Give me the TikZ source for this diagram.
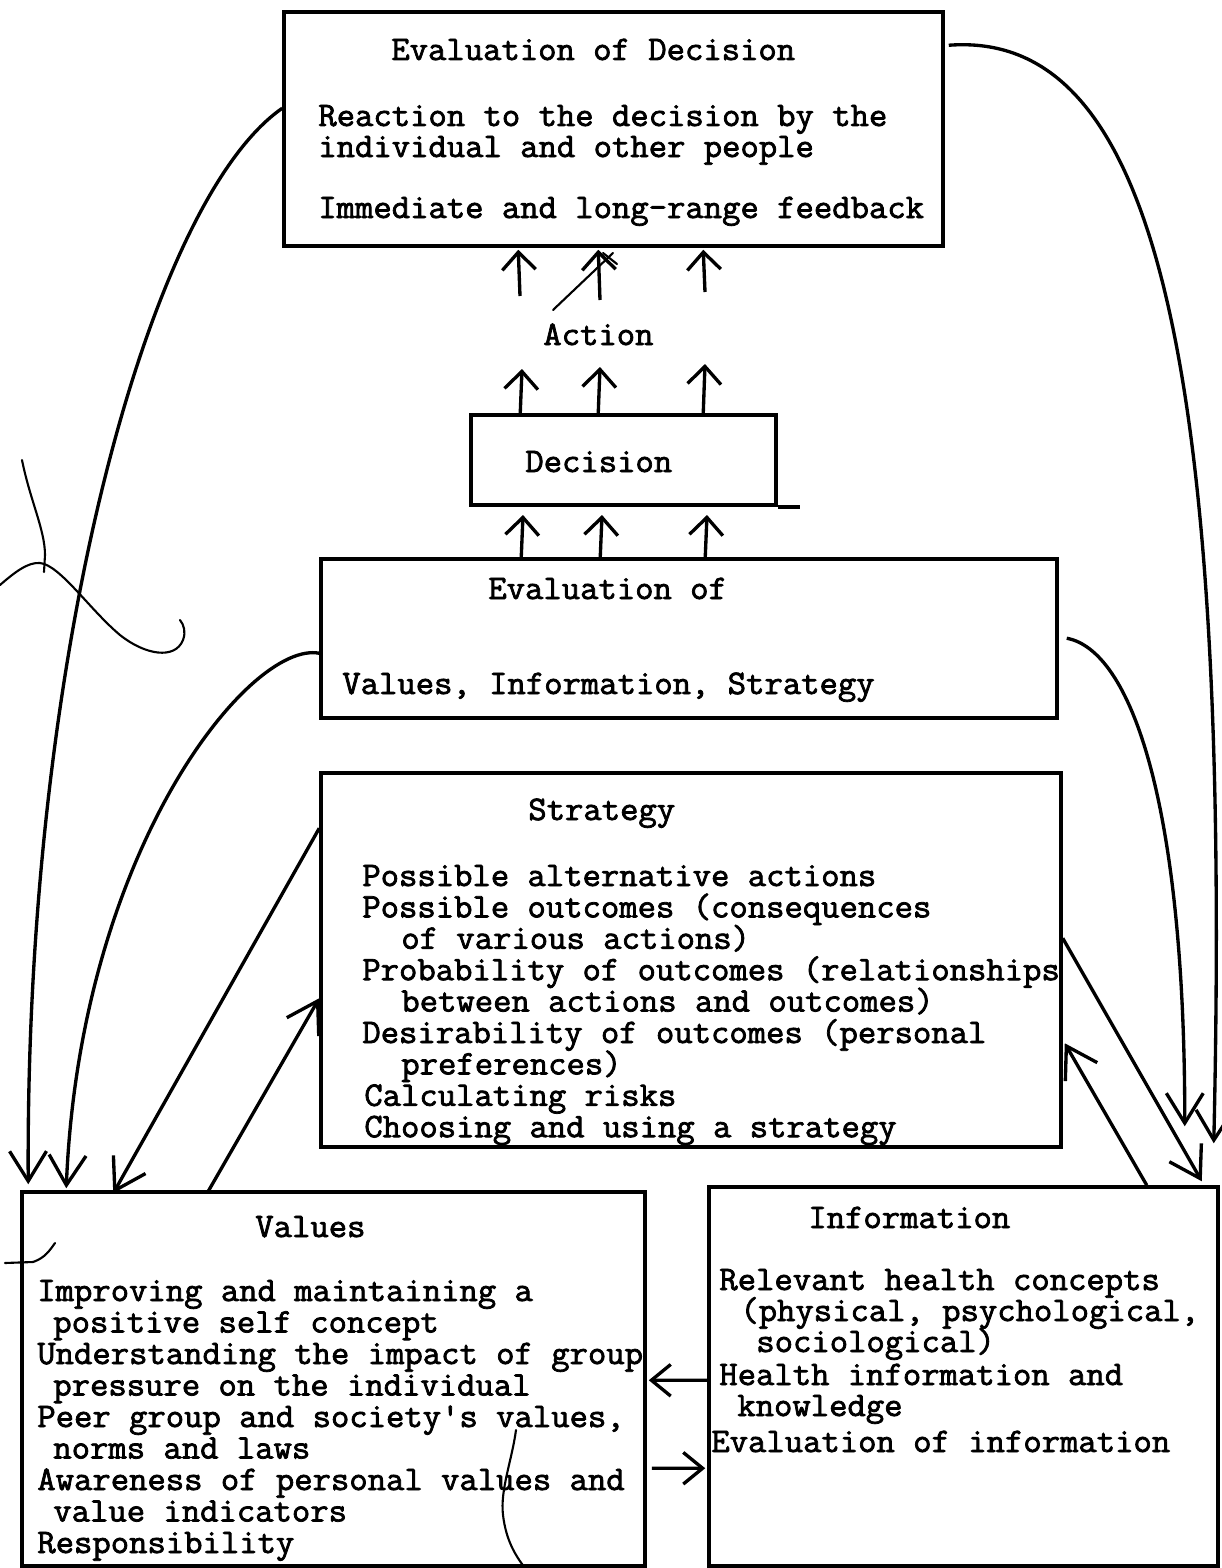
\documentclass[tikz,border=0pt]{standalone}
\usepackage{fontspec}
\newfontfamily\tw{Latin Modern Mono}[FakeBold=2.2,FakeStretch=1.035]
\usetikzlibrary{arrows.meta,fit,calc}
\begin{document}
\begin{tikzpicture}[x=0.02cm,y=-0.02cm,
  box/.style={draw,line width=2pt,inner sep=0pt},
  txt/.style={inner sep=0pt,anchor=base west,text height=12.5pt,text depth=3.5pt,
    font=\tw\fontsize{19.6}{21}\selectfont},
  conn/.style={line width=1.9pt},
  small/.style={conn,-{Straight Barb[length=10pt,width=19pt]}},
  big/.style={conn,-{Straight Barb[length=17pt,width=21pt]}},
  pen/.style={line width=1.2pt,line cap=round}]
\useasboundingbox (0,0) rectangle (1221,1568);

% boxes
\node[box,fit={(284,12) (943,246)}] (evd) {};
\node[box,fit={(471,415) (776,505)}] (dec) {};
\draw[line width=2pt] (dec.south east) -- ++(22,0);
\node[box,fit={(321,559) (1057,718)}] (evo) {};
\node[box,fit={(321,773) (1061,1147)}] (str) {};
\node[box,fit={(22,1192) (645,1566)}] (val) {};
\node[box,fit={(709,1187) (1218,1566)}] (inf) {};

% texts
\node[txt] (t1) at (391,60) {Evaluation of Decision};
\node[txt] (t2) at (318,126) {Reaction to the decision by the};
\node[txt] (t3) at (318,157) {individual and other people};
\node[txt] (t4) at (318,218) {Immediate and long-range feedback};
\node[txt] (act) at (543,345) {Action};
\node[txt] (t5) at (525,472) {Decision};
\node[txt] (t6) at (488,599) {Evaluation of};
\node[txt] (t7) at (342,694) {Values, Information, Strategy};
\node[txt] (t8) at (528,820) {Strategy};
\foreach \x/\t [count=\i] in {
  362/Possible alternative actions,
  362/Possible outcomes (consequences,
  401/of various actions),
  362/Probability of outcomes (relationships,
  401/between actions and outcomes),
  362/Desirability of outcomes (personal,
  401/preferences),
  364/Calculating risks,
  364/Choosing and using a strategy}
  \node[txt] (s\i) at (\x,{886+31.4*(\i-1)}) {\t};
\node[txt] (t9) at (255,1237) {Values};
\foreach \x/\t [count=\i] in {
  37/Improving and maintaining a,
  53/positive self concept,
  37/Understanding the impact of group,
  53/pressure on the individual,
  {37/Peer group and society's values,},
  53/norms and laws,
  37/Awareness of personal values and,
  53/value indicators,
  37/Responsibility}
  \node[txt] (v\i) at (\x,{1301+31.5*(\i-1)}) {\t};
\node[txt] (t10) at (808,1228) {Information};
\node[txt] (i1) at (719,1290) {Relevant health concepts};
\node[txt] (i2) at (740,1321) {(physical, psychological,};
\node[txt] (i3) at (756,1352) {sociological)};
\node[txt] (i4) at (719,1385) {Health information and};
\node[txt] (i5) at (737,1416) {knowledge};
\node[txt] (i6) at (711,1452) {Evaluation of information};

% upward arrows: Action -> evaluation of decision
\foreach \x/\y [count=\i] in {520/296,600/300,705/292} {
  \coordinate (a\i) at (\x,\y);
  \draw[small] (a\i) -- ($(evd.south west)+(\x-284,2)$);
}
% Decision -> Action
\foreach \x/\y [count=\i] in {522/369,600/367,705/364} {
  \coordinate (b\i) at (\x,\y);
  \draw[small] ($(dec.north west)+(\x-471,0)$) -- (b\i);
}
% evaluation -> Decision
\foreach \x [count=\i] in {523,602,707} {
  \coordinate (c\i) at (\x,515);
  \draw[small] ($(evo.north west)+(\x-321,0)$) -- (c\i);
}

% feedback curves
\coordinate (l1s) at ($(evd.north west)+(0,98)$);
\coordinate (l1e) at ($(val.north west)+(8,-6)$);
\draw[big] (l1s) .. controls (150,200) and (25,650) .. (l1e);
\coordinate (l2s) at ($(evo.north west)+(0,96)$);
\coordinate (l2e) at ($(val.north west)+(46,-2)$);
\draw[big] (l2s) .. controls (250,640) and (80,850) .. (l2e);
\coordinate (r1s) at ($(evd.north east)+(4,35)$);
\coordinate (r1e) at ($(inf.north east)+(-6,-42)$);
\draw[big] (r1s) .. controls (1150,30) and (1232,340) .. (r1e);
\coordinate (r2s) at ($(evo.north east)+(8,81)$);
\coordinate (r2e) at ($(inf.north east)+(-35,-59)$);
\draw[big] (r2s) .. controls (1130,650) and (1185,800) .. (r2e);

% links between Strategy, Values and Information
\draw[big] ($(str.north west)+(0,57)$) -- ($(val.north west)+(93,3)$);
\draw[big] ($(val.north west)+(188,1)$) -- ($(str.north west)+(0,227)$);
\draw[big] ($(str.north east)+(0,167)$) -- ($(inf.north east)+(-18,-4)$);
\draw[big] ($(inf.north east)+(-73,0)$) -- ($(str.north east)+(2,272)$);
\draw[conn,-{Straight Barb[length=11pt,width=18pt]}] ($(inf.north west)+(0,195)$) -- ($(val.north east)+(2,190)$);
\draw[conn,-{Straight Barb[length=11pt,width=18pt]}] ($(val.north east)+(5,278)$) -- ($(inf.north west)+(-2,283)$);

% pen strokes
\draw[pen] (553,310) -- (613,253);
\draw[pen] (603,253) -- (617,264);
\draw[pen] (0,585) .. controls (15,572) and (28,562) .. (40,563)
  .. controls (60,565) and (90,610) .. (120,635)
  .. controls (145,655) and (175,660) .. (183,640)
  .. controls (186,632) and (184,625) .. (180,620);
\draw[pen] (22,460) .. controls (30,500) and (45,530) .. (45,555) -- (44,572);
\draw[pen] (5,1263) -- (33,1262) .. controls (45,1258) and (50,1250) .. (55,1243);
\draw[pen] (516,1430) .. controls (512,1460) and (500,1490) .. (503,1515)
  .. controls (506,1540) and (515,1555) .. (525,1568);
\end{tikzpicture}
\end{document}
